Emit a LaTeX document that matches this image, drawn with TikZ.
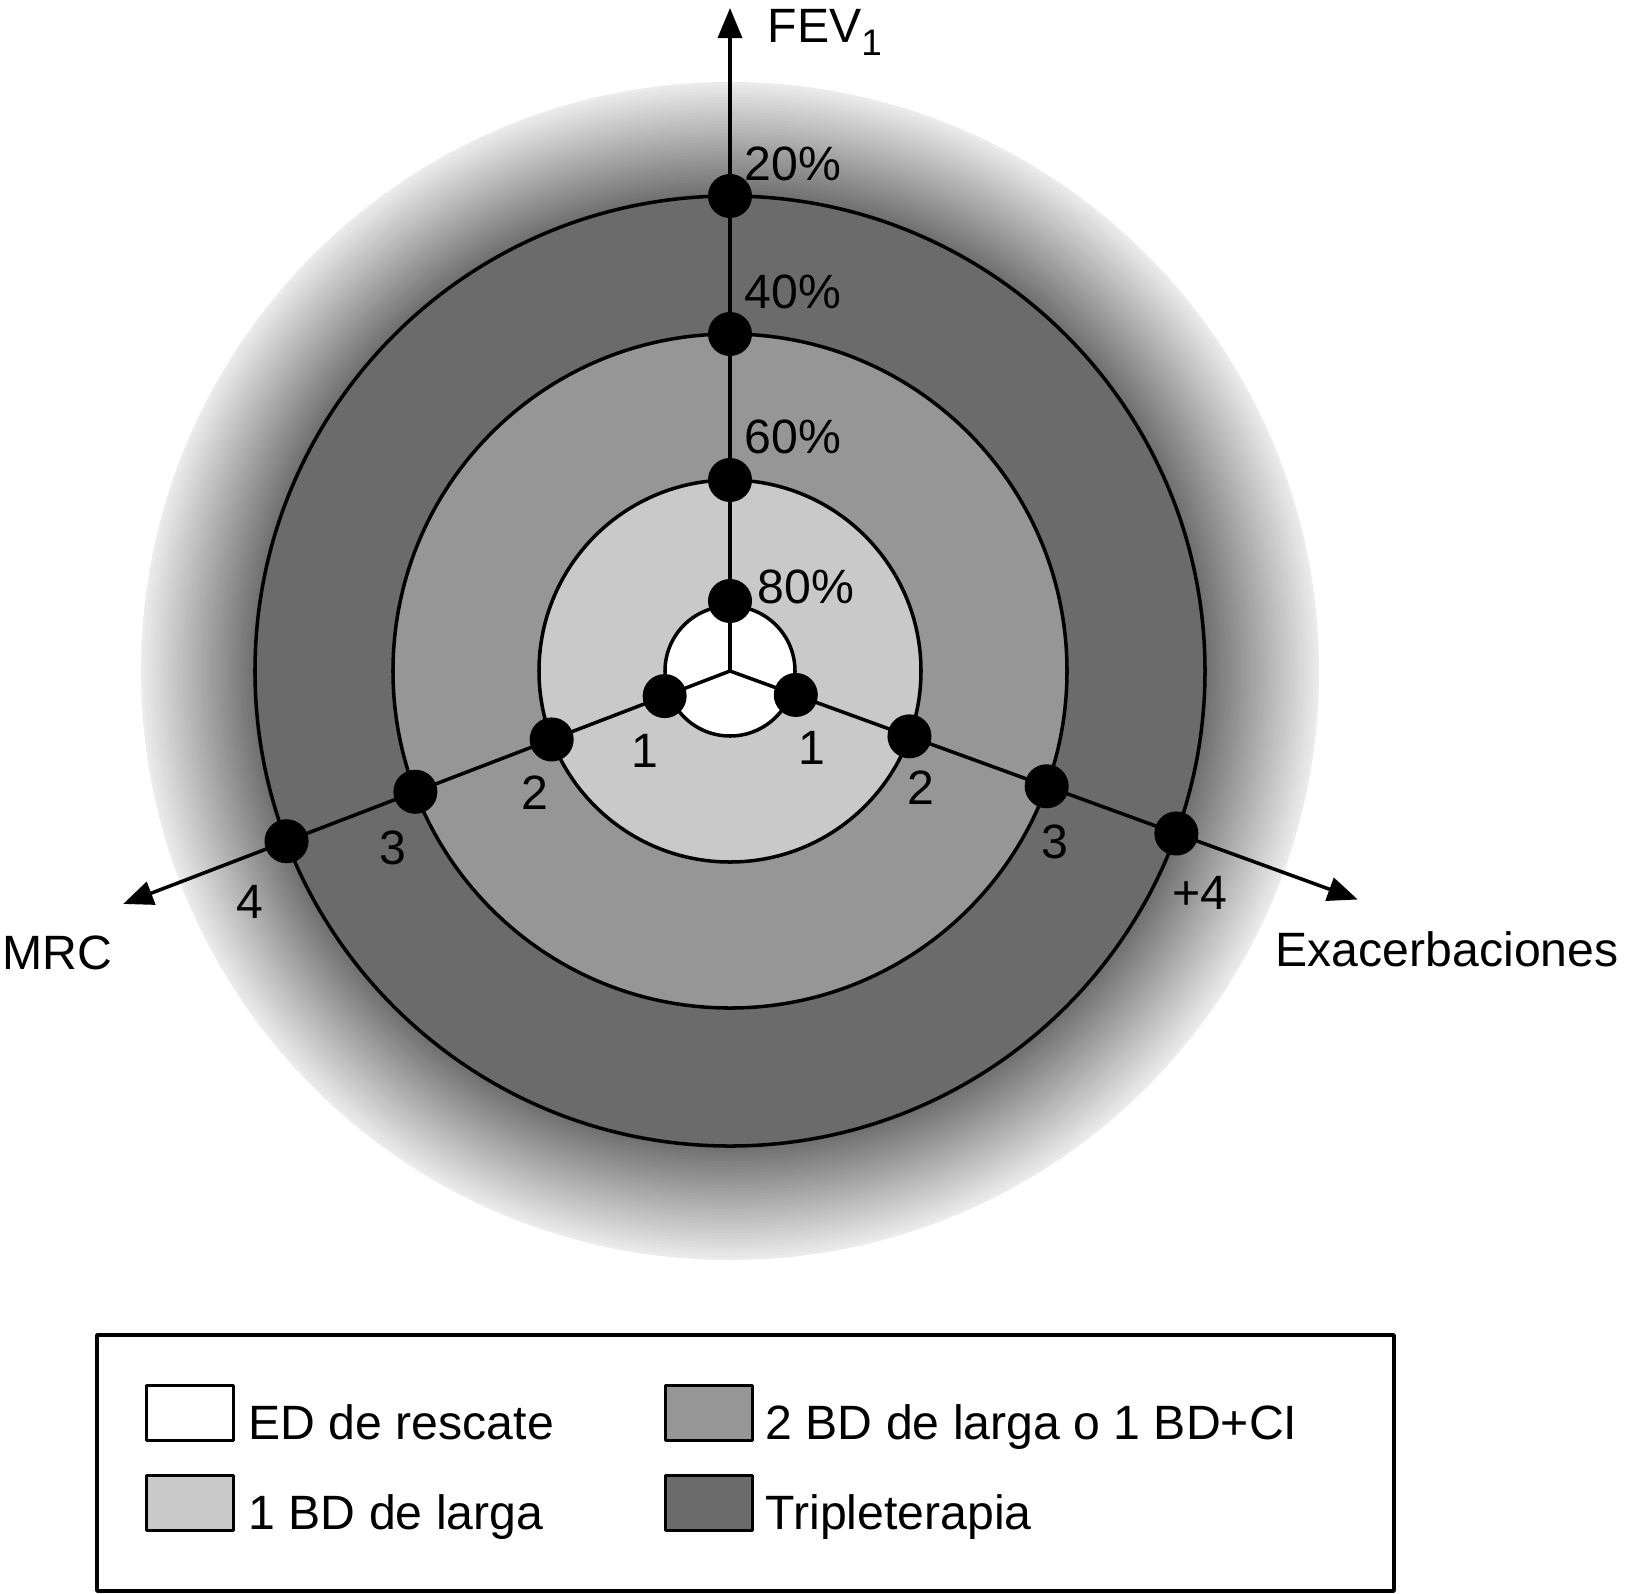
\documentclass[tikz,border=0pt]{standalone}
\usepackage{fontspec}
\setmainfont{Liberation Sans}
\usepackage{tikz}
\usetikzlibrary{arrows.meta}
\definecolor{grisclaro}{rgb}{0.79,0.79,0.79}
\definecolor{grismedio}{rgb}{0.59,0.59,0.59}
\definecolor{grisoscuro}{rgb}{0.42,0.42,0.42}
\tikzstyle{every node}=[font=\fontsize{13.7}{16}\selectfont]
\tikzset{punto/.style={circle,fill=black,inner sep=0pt,minimum size=0.44cm},
  muestra/.style={draw,line width=0.95pt,inner sep=0pt,minimum width=0.87cm,minimum height=0.55cm,anchor=south west},
  rotulo/.style={anchor=base west,inner sep=0pt}}

\begin{document}
\begin{tikzpicture}[line cap=round,line join=round,>={Triangle[length=3mm,width=2.4mm]},x=0.01cm,y=0.01cm]
            \useasboundingbox (-730,-922) rectangle (895,671);
            \coordinate (O) at (0,0);
            % halo degradado
            \foreach \i in {0,...,38}
              {\pgfmathsetmacro\gris{8+1.3*\i}
               \fill[black!\gris] (O) circle[radius=589-3*\i];}
            \draw [line width=1pt,fill=grisoscuro] (O) circle[radius=475];
            \draw [line width=1pt,fill=grismedio] (O) circle[radius=337];
            \draw [line width=1pt,fill=grisclaro] (O) circle[radius=191];
            \draw [line width=1pt,fill=white] (O) circle[radius=65];
            % ejes
            \coordinate (fev) at (0,663);
            \coordinate (mrc) at (201:650);
            \coordinate (exa) at (340:668);
            \draw [->,line width=1pt] (O) -- (fev);
            \draw [->,line width=1pt] (O) -- (mrc);
            \draw [->,line width=1pt] (O) -- (exa);
            \foreach \r/\n in {70/a,191/b,337/c,475/d}
              {\node[punto] (f\n) at (90:\r) {};
               \node[punto] (m\n) at (201:\r) {};
               \node[punto] (e\n) at (340:\r) {};}
            \node[rotulo] (tfev) at (37,629) {FEV\raisebox{-0.28em}{\fontsize{10.5}{11}\selectfont 1}};
            \node[rotulo] (tmrc) at (-728,-298) {MRC};
            \node[rotulo] (texa) at (545,-295) {Exacerbaciones};
            \node (p20) at (63,507) {20\%};
            \node (p40) at (63,379) {40\%};
            \node (p60) at (63,234) {60\%};
            \node (p80) at (76,84) {80\%};
            \node (m1) at (-85,-80) {1};
            \node (m2) at (-195,-122) {2};
            \node (m3) at (-337,-177) {3};
            \node (m4) at (-480,-231) {4};
            \node (e1) at (82,-77) {1};
            \node (e2) at (191,-117) {2};
            \node (e3) at (325,-171) {3};
            \node (e4) at (470,-222) {+4};
            % leyenda
            \draw [line width=1pt] (-633,-664) rectangle (664,-920);
            \node[muestra,fill=white] (led) at (-585,-771) {};
            \node[muestra,fill=grisclaro] (lbd) at (-585,-861) {};
            \node[muestra,fill=grismedio] (l2bd) at (-66,-771) {};
            \node[muestra,fill=grisoscuro] (ltri) at (-66,-861) {};
            \node[rotulo] at (-482,-768) {ED de rescate};
            \node[rotulo] at (-482,-858) {1 BD de larga};
            \node[rotulo] at (35,-768) {2 BD de larga o 1 BD+CI};
            \node[rotulo] at (35,-858) {Tripleterapia};
\end{tikzpicture}
\end{document}
